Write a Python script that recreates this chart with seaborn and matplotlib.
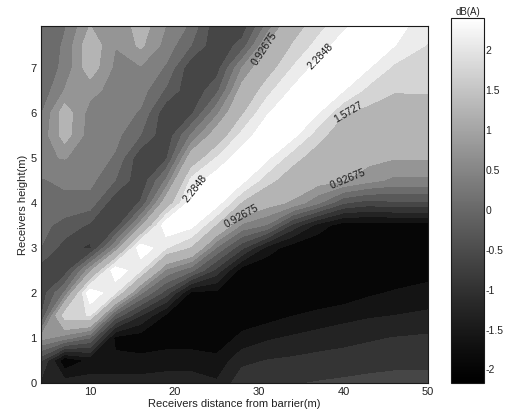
import numpy as np
import matplotlib
matplotlib.use("Agg")
import matplotlib.pyplot as plt
from matplotlib.colors import Normalize, ListedColormap
from matplotlib.cm import ScalarMappable
import seaborn as sns

# ---------------- data ----------------
x_nodes = [4.2, 7, 10, 13, 16, 19, 22, 25, 28, 31, 34, 37, 40, 43, 46, 50]
y_nodes = [0, 0.5, 1, 1.5, 2, 2.5, 3, 3.5, 4, 4.5, 5, 5.5, 6, 6.5, 7, 7.5, 8]

# noise level difference dB(A), one list per receiver distance (bottom -> top)
col_x04 = [-1.2, -0.7, 0.7, -0.5, -0.65, -0.6, -0.1, 0.0, 0.1, 0.2, 0.55, 0.35, 0.2, 0.0, -0.05, -0.05, -0.1]
col_x07 = [-1.3, -2.1, 0.4, 1.8, 0.3, -0.65, -0.6, -0.2, 0.1, 0.35, 0.6, 1.1, 1.15, 0.6, 0.35, 0.3, 0.2]
col_x10 = [-1.3, -1.7, -0.1, 1.95, 2.6, 0.8, -0.85, -0.5, 0.1, 0.35, 0.45, 0.4, 0.45, 0.7, 1.15, 1.2, 0.9]
col_x13 = [-1.3, -1.7, -1.9, -0.2, 1.95, 2.6, 0.6, -0.65, -0.7, -0.1, 0.2, 0.35, 0.45, 0.45, 0.5, 0.6, 0.6]
col_x16 = [-1.3, -1.7, -2.0, -1.1, 0.3, 1.95, 2.6, 0.8, -0.4, -0.7, -0.7, -0.1, 0.2, 0.4, 0.55, 1.0, 1.15]
col_x19 = [-1.3, -1.6, -2.0, -1.85, -0.6, 0.5, 1.95, 2.6, 1.2, 0.3, -0.5, -0.7, -0.7, -0.15, 0.2, 0.45, 0.6]
col_x22 = [-1.3, -1.6, -2.0, -2.05, -1.9, 0.0, 1.5, 2.4, 2.5, 2.05, 1.2, 0.3, -0.5, -0.7, -0.7, -0.1, 0.2]
col_x25 = [-1.4, -1.7, -2.0, -2.1, -1.9, -0.9, 0.2, 1.5, 2.45, 2.55, 1.95, 1.2, 0.5, -0.2, -0.6, -0.7, -0.7]
col_x28 = [-0.9, -1.2, -1.7, -2.0, -2.1, -2.0, -0.7, 0.5, 1.5, 2.4, 2.55, 2.05, 1.5, 1.1, 0.6, -0.3, -0.7]
col_x31 = [-0.85, -1.1, -1.5, -1.95, -2.1, -2.1, -1.6, 0.2, 1.1, 1.7, 2.35, 2.6, 2.25, 1.8, 1.35, 0.95, 0.3]
col_x34 = [-0.8, -1.05, -1.4, -1.8, -2.1, -2.1, -2.0, -0.9, 0.85, 1.3, 1.7, 2.4, 2.6, 2.35, 1.95, 1.6, 1.3]
col_x37 = [-0.75, -1.0, -1.3, -1.7, -2.05, -2.1, -2.1, -1.6, 0.3, 1.1, 1.35, 1.7, 2.3, 2.6, 2.45, 2.05, 1.75]
col_x40 = [-0.7, -1.0, -1.2, -1.6, -2.0, -2.1, -2.1, -2.0, -0.4, 0.95, 1.15, 1.3, 1.6, 2.3, 2.6, 2.5, 2.15]
col_x43 = [-0.65, -0.95, -1.15, -1.5, -1.85, -2.05, -2.1, -2.0, -0.6, 0.7, 1.05, 1.2, 1.45, 1.8, 2.3, 2.55, 2.55]
col_x46 = [-0.62, -0.9, -1.1, -1.45, -1.75, -2.05, -2.1, -2.0, -0.5, 0.5, 0.95, 1.15, 1.35, 1.6, 1.85, 2.3, 2.45]
col_x50 = [-0.6, -0.9, -1.05, -1.4, -1.6, -2.0, -2.1, -2.0, -0.5, 0.5, 0.95, 1.15, 1.4, 1.6, 1.75, 1.9, 2.1]

contour_levels = [-2.46825, -2.12875, -1.78925, -1.44975, -1.11025, -0.77075, -0.43125,
                  -0.09175, 0.24775, 0.58725, 0.92675, 1.5727, 1.92875, 2.2848, 2.62425, 2.9]
label_levels = [0.92675, 1.5727, 2.2848]
label_texts = ["0.92675", "1.5727", "2.2848"]
label_spots = [(30.5, 7.45), (28.0, 3.7), (40.3, 4.6), (40.6, 6.0), (22.8, 4.25), (37.6, 7.2)]

cbar_ticks = [-2, -1.5, -1, -0.5, 0, 0.5, 1, 1.5, 2]
x_ticks = [10, 20, 30, 40, 50]
y_ticks = [0, 1, 2, 3, 4, 5, 6, 7]

# ---------------- style ----------------
sns.set_theme(style="white")
plt.rcParams["font.family"] = ["Liberation Sans", "DejaVu Sans"]
plt.rcParams["axes.unicode_minus"] = False

columns = [col_x04, col_x07, col_x10, col_x13, col_x16, col_x19, col_x22, col_x25,
           col_x28, col_x31, col_x34, col_x37, col_x40, col_x43, col_x46, col_x50]
Z = np.column_stack([np.asarray(c, float) for c in columns])
X, Y = np.meshgrid(x_nodes, y_nodes)

ramp = np.linspace(0, 1, 256) ** 1.2
cmap = ListedColormap(np.column_stack([ramp, ramp, ramp]), name="gray_gamma")
norm = Normalize(vmin=-2.17, vmax=2.4)

fig = plt.figure(figsize=(5.08, 4.19), dpi=100)
ax = fig.add_axes([0.0807, 0.0859, 0.7618, 0.8521])
cax = fig.add_axes([0.888, 0.0859, 0.065, 0.871])

ax.contourf(X, Y, Z, levels=contour_levels, cmap=cmap, norm=norm)
lines = ax.contour(X, Y, Z, levels=label_levels, colors="k", linewidths=0)
fmt = dict(zip(lines.levels, label_texts))
ax.clabel(lines, fmt=fmt, manual=label_spots, inline=True, fontsize=7.5, colors="k")

ax.set_xlim(4.2, 50)
ax.set_ylim(0, 7.93)
ax.set_xticks(x_ticks)
ax.set_yticks(y_ticks)
ax.tick_params(direction="in", length=3, top=True, right=True, labelsize=8, pad=3,
               color="k", labelcolor="#222222")
for s in ax.spines.values():
    s.set_color("k")
    s.set_linewidth(0.8)
ax.set_xlabel("Receivers distance from barrier(m)", fontsize=8, labelpad=1, color="#222222")
ax.set_ylabel("Receivers height(m)", fontsize=8, labelpad=2, color="#222222")

sm = ScalarMappable(norm=norm, cmap=cmap)
cb = fig.colorbar(sm, cax=cax)
cb.set_ticks(cbar_ticks)
cb.set_ticklabels(["%g" % t for t in cbar_ticks])
cax.tick_params(direction="in", length=3, left=True, right=True, labelsize=7.5, pad=1,
                labelcolor="#222222")
cb.outline.set_edgecolor("k")
cb.outline.set_linewidth(0.8)
cax.set_title("dB(A)", fontsize=7, pad=2, color="#222222")

fig.savefig("out.png", dpi=100)
